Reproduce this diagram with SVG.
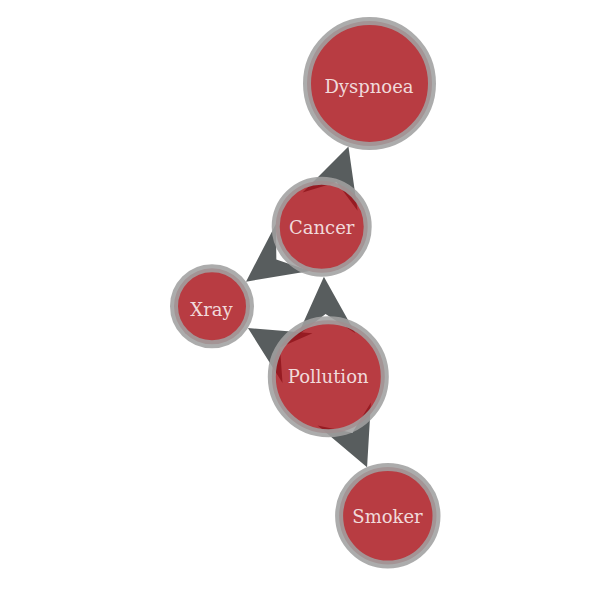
<svg xmlns="http://www.w3.org/2000/svg" xmlns:xlink="http://www.w3.org/1999/xlink" width="600" height="600" viewBox="0 0 600 600">
<style>
.edge{fill:rgb(46,52,54);fill-opacity:0.8;stroke:none}
.node circle{fill:rgb(166,11,19);fill-opacity:0.8;stroke:rgb(160,160,160);stroke-opacity:0.88;stroke-width:8}
.node text{font-family:"DejaVu Serif","Liberation Serif",serif;font-size:18px;fill:#ffffff;fill-opacity:0.82;text-anchor:middle}
</style>
<defs>
<path id="arrow" d="M0,0 L-58,29 L-37.5,0 L-58,-29 Z"/>
</defs>
<rect width="600" height="600" fill="#ffffff"/>
<g id="connectors">
<use class="edge" href="#arrow" xlink:href="#arrow" transform="translate(348.44,146.58) rotate(-71.55)"/>
<use class="edge" href="#arrow" xlink:href="#arrow" transform="translate(245.99,281.63) rotate(144.03)"/>
<use class="edge" href="#arrow" xlink:href="#arrow" transform="translate(323.90,276.65) rotate(-92.52)"/>
<use class="edge" href="#arrow" xlink:href="#arrow" transform="translate(247.93,328.05) rotate(-148.81)"/>
<use class="edge" href="#arrow" xlink:href="#arrow" transform="translate(367.07,467.35) rotate(66.84)"/>
</g>
<g id="node-dyspnoea" class="node">
<circle cx="369.5" cy="83.5" r="62.5"/>
<text x="369" y="93.3">Dyspnoea</text>
</g>
<g id="node-cancer" class="node">
<circle cx="321.7" cy="226.7" r="46"/>
<text x="321.7" y="234.3">Cancer</text>
</g>
<g id="node-xray" class="node">
<circle cx="212" cy="306.3" r="38"/>
<text x="211.5" y="315.7">Xray</text>
</g>
<g id="node-pollution" class="node">
<circle cx="328.3" cy="376.7" r="56.5"/>
<text x="328.2" y="383.3">Pollution</text>
</g>
<g id="node-smoker" class="node">
<circle cx="387.8" cy="515.8" r="48.7"/>
<text x="387.5" y="522.7">Smoker</text>
</g>
</svg>
